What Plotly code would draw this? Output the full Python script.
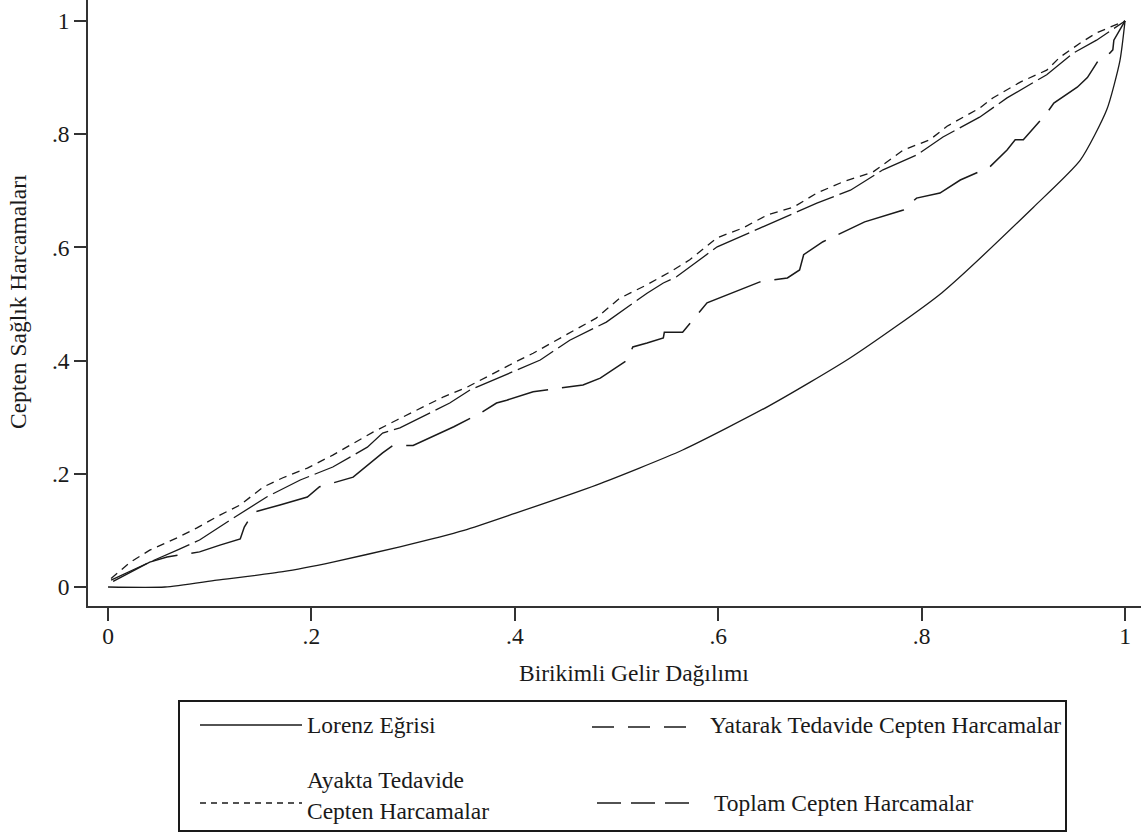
import plotly.graph_objects as go

# ---- data ----
lorenz_x = [0.0, 0.056, 0.107, 0.172, 0.221, 0.287, 0.35, 0.40, 0.48, 0.565, 0.65, 0.73, 0.82, 0.91, 0.956, 0.982, 0.995, 1.0]
lorenz_y = [0.0, 0.0, 0.012, 0.027, 0.044, 0.071, 0.10, 0.13, 0.18, 0.242, 0.32, 0.405, 0.52, 0.671, 0.754, 0.843, 0.93, 1.0]

ayakta_x = [0.003, 0.022, 0.041, 0.068, 0.087, 0.11, 0.13, 0.153, 0.172, 0.196, 0.221, 0.241, 0.261, 0.284, 0.33, 0.353,
            0.376, 0.399, 0.418, 0.441, 0.464, 0.48, 0.503, 0.53, 0.553, 0.572, 0.599, 0.624, 0.648, 0.674, 0.697, 0.723,
            0.752, 0.782, 0.808, 0.825, 0.857, 0.87, 0.897, 0.923, 0.936, 0.956, 0.972, 0.995, 1.0]
ayakta_y = [0.015, 0.044, 0.065, 0.087, 0.104, 0.127, 0.145, 0.177, 0.193, 0.21, 0.233, 0.254, 0.274, 0.295, 0.336, 0.353,
            0.375, 0.396, 0.413, 0.436, 0.458, 0.475, 0.51, 0.534, 0.557, 0.578, 0.617, 0.634, 0.657, 0.671, 0.696, 0.716,
            0.733, 0.772, 0.79, 0.814, 0.846, 0.864, 0.892, 0.913, 0.936, 0.961, 0.979, 0.996, 1.0]

toplam_x = [0.003, 0.041, 0.068, 0.09, 0.12, 0.156, 0.189, 0.221, 0.255, 0.27, 0.287, 0.336, 0.356, 0.425, 0.454, 0.49,
            0.53, 0.546, 0.559, 0.599, 0.641, 0.697, 0.73, 0.762, 0.795, 0.821, 0.857, 0.884, 0.923, 0.949, 0.972, 0.995, 1.0]
toplam_y = [0.012, 0.044, 0.065, 0.083, 0.118, 0.159, 0.189, 0.212, 0.247, 0.272, 0.281, 0.325, 0.348, 0.401, 0.436, 0.468,
            0.519, 0.537, 0.548, 0.601, 0.634, 0.678, 0.701, 0.737, 0.763, 0.795, 0.830, 0.864, 0.905, 0.943, 0.966, 0.993, 1.0]

yatarak_x = [0.005, 0.041, 0.058, 0.09, 0.11, 0.13, 0.134, 0.143, 0.169, 0.196, 0.208, 0.241, 0.27, 0.28, 0.30, 0.34,
             0.366, 0.382, 0.392, 0.418, 0.467, 0.484, 0.51, 0.516, 0.53, 0.546, 0.547, 0.565, 0.589, 0.621, 0.641,
             0.668, 0.68, 0.684, 0.703, 0.744, 0.782, 0.795, 0.818, 0.838, 0.867, 0.884, 0.892, 0.9, 0.923, 0.93,
             0.953, 0.963, 0.974, 0.985, 0.988, 0.989, 1.0]
yatarak_y = [0.01, 0.044, 0.053, 0.062, 0.074, 0.085, 0.106, 0.132, 0.145, 0.159, 0.177, 0.194, 0.237, 0.25, 0.25, 0.283,
             0.307, 0.325, 0.33, 0.345, 0.357, 0.369, 0.40, 0.424, 0.431, 0.44, 0.45, 0.45, 0.502, 0.525, 0.539,
             0.546, 0.56, 0.587, 0.61, 0.645, 0.666, 0.687, 0.696, 0.719, 0.742, 0.772, 0.79, 0.79, 0.837, 0.855,
             0.883, 0.9, 0.931, 0.943, 0.949, 0.966, 1.0]

tick_vals = [0, 0.2, 0.4, 0.6, 0.8, 1]
tick_text = ["0", ".2", ".4", ".6", ".8", "1"]

series_names = ["Lorenz Eğrisi", "Yatarak Tedavide Cepten Harcamalar",
                "Ayakta Tedavide<br>Cepten Harcamalar", "Toplam Cepten Harcamalar"]
x_title = "Birikimli Gelir Dağılımı"
y_title = "Cepten Sağlık Harcamaları"

FONT = "Liberation Serif"
INK = "#1a1a1a"
FS = 23.5

W, H = 1141, 838
ML, MB = 88, 232          # plot area: x 88..1141, y 0..606 (px)
PW, PH = W - ML, H - MB


def px_x(p):  # page px -> paper x
    return (p - ML) / PW


def px_y(p):  # page px -> paper y
    return (PH - p) / PH


styles = [
    dict(color=INK, width=1.3, shape="spline", smoothing=0.6),
    dict(color=INK, width=1.5, dash="70px,14px"),
    dict(color=INK, width=1.3, dash="8px,6px"),
    dict(color=INK, width=1.3, dash="40px,6px"),
]
data = [(lorenz_x, lorenz_y), (yatarak_x, yatarak_y), (ayakta_x, ayakta_y), (toplam_x, toplam_y)]

fig = go.Figure()
for (xs, ys), nm, st in zip(data, series_names, styles):
    fig.add_trace(go.Scatter(x=xs, y=ys, mode="lines", name=nm, line=st, showlegend=False,
                             hoverinfo="skip"))

fig.update_layout(
    width=W, height=H,
    margin=dict(l=ML, r=0, t=0, b=MB, autoexpand=False),
    paper_bgcolor="white", plot_bgcolor="white",
    font=dict(family=FONT, color=INK, size=FS),
)
fig.update_xaxes(range=[-0.0197, 1.0157], tickvals=tick_vals, ticktext=tick_text,
                 showgrid=False, zeroline=False, showline=True, linecolor="#333", linewidth=1.5,
                 ticks="outside", ticklen=13, tickwidth=1.5, tickcolor="#333", ticklabelstandoff=-5,
                 tickfont=dict(family=FONT, size=FS, color=INK))
fig.update_yaxes(range=[-0.0336, 1.037], tickvals=tick_vals, ticktext=tick_text,
                 showgrid=False, zeroline=False, showline=True, linecolor="#333", linewidth=1.5,
                 ticks="outside", ticklen=12, tickwidth=1.5, tickcolor="#333",
                 tickfont=dict(family=FONT, size=FS, color=INK))

# axis titles
fig.add_annotation(text=x_title, xref="paper", yref="paper", x=px_x(634), y=px_y(673),
                   xanchor="center", yanchor="middle",
                   showarrow=False, font=dict(family=FONT, size=FS, color=INK))
fig.add_annotation(text=y_title, xref="paper", yref="paper", x=px_x(18), y=px_y(302),
                   xanchor="center", yanchor="middle",
                   textangle=-90, showarrow=False, font=dict(family=FONT, size=FS, color=INK))

# legend box (drawn as in the reference: two columns, long sample lines)
fig.add_shape(type="rect", xref="paper", yref="paper", x0=px_x(179), x1=px_x(1066), y0=px_y(701), y1=px_y(831),
              line=dict(color=INK, width=2), fillcolor="white")
legend_items = [
    # sample x0, x1, sample y, text x, text y
    (200, 302, 725, 305, 725),
    (592, 688, 727, 708, 725),
    (200, 302, 803, 305, 795),
    (597, 692, 803, 712, 803),
]
sample_dash = ["solid", "22px,14px", "6px,5px", "24px,10px"]
for (sx0, sx1, sy, tx, ty), nm, dsh in zip(legend_items, series_names, sample_dash):
    fig.add_shape(type="line", xref="paper", yref="paper", x0=px_x(sx0), x1=px_x(sx1), y0=px_y(sy), y1=px_y(sy),
                  line=dict(color=INK, width=1.5, dash=dsh))
    fig.add_annotation(text=nm, xref="paper", yref="paper", x=px_x(tx), y=px_y(ty), xanchor="left",
                       yanchor="middle", align="left", showarrow=False,
                       font=dict(family=FONT, size=FS, color=INK))

fig.write_html("out.html", config={"displayModeBar": False},
               post_script="document.body.style.margin='0px';")
